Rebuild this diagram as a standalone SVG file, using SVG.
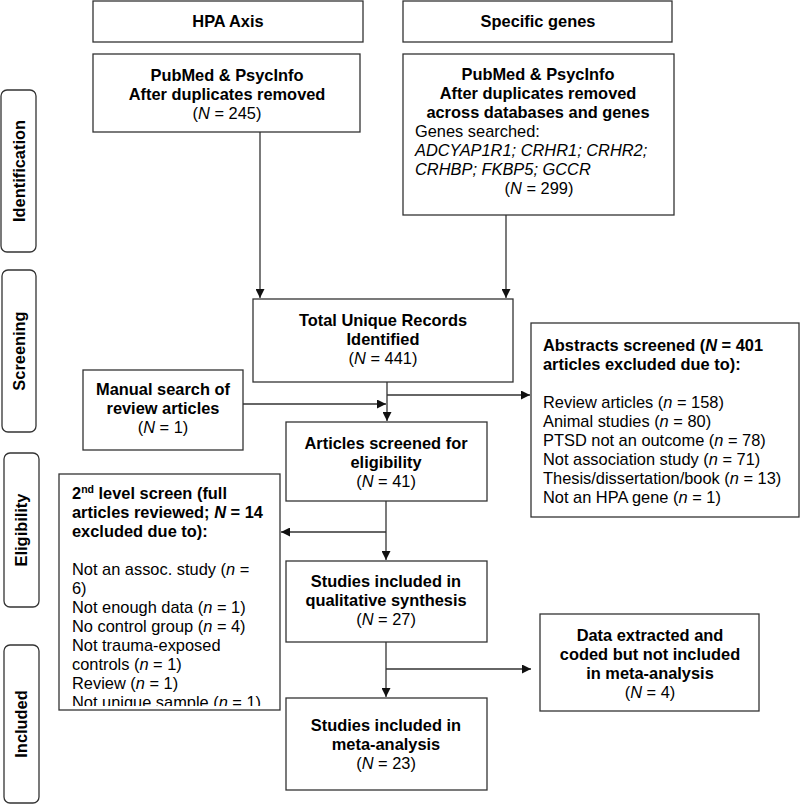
<svg xmlns="http://www.w3.org/2000/svg" width="800" height="804" viewBox="0 0 800 804">
<defs>
<style>
text{font-family:"Liberation Sans",Arial,sans-serif;font-size:16.4px;fill:#000}
.b{font-weight:bold}
.c{text-anchor:middle}
.i{font-style:italic}
.box{fill:#fff;stroke:#333;stroke-width:1.3}
.lab{fill:#fff;stroke:#333;stroke-width:1.3}
.ln{fill:none;stroke:#333;stroke-width:1.3}
</style>
<marker id="ah" viewBox="0 0 10 10" refX="10" refY="5" markerWidth="9" markerHeight="9" markerUnits="userSpaceOnUse" orient="auto">
<path d="M0,0 L10,5 L0,10 z" fill="#111"/>
</marker>
<clipPath id="clip2"><rect x="59" y="474" width="221" height="232"/></clipPath>
</defs>

<g id="label-identification">
<rect class="lab" x="1" y="90" width="35" height="162" rx="6"/>
<text class="b c" transform="translate(25,171) rotate(-90)">Identification</text>
</g>
<g id="label-screening">
<rect class="lab" x="2" y="270" width="34" height="162" rx="6"/>
<text class="b c" transform="translate(25,351) rotate(-90)">Screening</text>
</g>
<g id="label-eligibility">
<rect class="lab" x="4" y="453" width="35" height="154" rx="6"/>
<text class="b c" transform="translate(27,530) rotate(-90)">Eligibility</text>
</g>
<g id="label-included">
<rect class="lab" x="4" y="645" width="35" height="158" rx="6"/>
<text class="b c" transform="translate(27,724) rotate(-90)">Included</text>
</g>

<g id="connectors">
<line class="ln" x1="260" y1="132" x2="260" y2="298" marker-end="url(#ah)"/>
<line class="ln" x1="506" y1="215" x2="506" y2="298" marker-end="url(#ah)"/>
<line class="ln" x1="387" y1="382" x2="387" y2="421" marker-end="url(#ah)"/>
<line class="ln" x1="387" y1="395" x2="530" y2="395" marker-end="url(#ah)"/>
<line class="ln" x1="243" y1="404" x2="386" y2="404" marker-end="url(#ah)"/>
<line class="ln" x1="386" y1="501" x2="386" y2="560" marker-end="url(#ah)"/>
<line class="ln" x1="386" y1="532" x2="281" y2="532" marker-end="url(#ah)"/>
<line class="ln" x1="386" y1="642" x2="386" y2="697" marker-end="url(#ah)"/>
<line class="ln" x1="386" y1="669" x2="531" y2="669" marker-end="url(#ah)"/>
</g>

<g id="hpa-axis">
<rect class="box" x="93" y="1" width="270" height="41"/>
<text class="b c" x="228" y="27">HPA Axis</text>
</g>
<g id="specific-genes">
<rect class="box" x="403" y="1" width="269" height="41"/>
<text class="b c" x="538" y="27">Specific genes</text>
</g>

<g id="pubmed-hpa">
<rect class="box" x="93" y="54" width="267" height="78"/>
<text class="b c" x="227" y="81">PubMed &amp; PsycInfo</text>
<text class="b c" x="227" y="100">After duplicates removed</text>
<text class="c" x="227" y="119">(<tspan class="i">N</tspan> = 245)</text>
</g>

<g id="pubmed-genes">
<rect class="box" x="403" y="54" width="271" height="161"/>
<text class="b c" x="538" y="80">PubMed &amp; PsycInfo</text>
<text class="b c" x="538" y="99">After duplicates removed</text>
<text class="b c" x="538" y="118">across databases and genes</text>
<text x="415" y="137">Genes searched:</text>
<text class="i" x="415" y="156">ADCYAP1R1; CRHR1; CRHR2;</text>
<text class="i" x="415" y="175">CRHBP; FKBP5; GCCR</text>
<text class="c" x="539" y="194">(<tspan class="i">N</tspan> = 299)</text>
</g>

<g id="total-records">
<rect class="box" x="253" y="299" width="260" height="83"/>
<text class="b c" x="383" y="326">Total Unique Records</text>
<text class="b c" x="383" y="345">Identified</text>
<text class="c" x="383" y="364">(<tspan class="i">N</tspan> = 441)</text>
</g>

<g id="abstracts-screened">
<rect class="box" x="531" y="323" width="268" height="194"/>
<text class="b" x="543" y="351">Abstracts screened (<tspan class="i">N</tspan> = 401</text>
<text class="b" x="543" y="370">articles excluded due to):</text>
<text x="543" y="408">Review articles (<tspan class="i">n</tspan> = 158)</text>
<text x="543" y="427">Animal studies (<tspan class="i">n</tspan> = 80)</text>
<text x="543" y="446">PTSD not an outcome (<tspan class="i">n</tspan> = 78)</text>
<text x="543" y="465">Not association study (<tspan class="i">n</tspan> = 71)</text>
<text x="543" y="484">Thesis/dissertation/book (<tspan class="i">n</tspan> = 13)</text>
<text x="543" y="503">Not an HPA gene (<tspan class="i">n</tspan> = 1)</text>
</g>

<g id="manual-search">
<rect class="box" x="83" y="370" width="160" height="80"/>
<text class="b c" x="163" y="395">Manual search of</text>
<text class="b c" x="163" y="414">review articles</text>
<text class="c" x="163" y="433">(<tspan class="i">N</tspan> = 1)</text>
</g>

<g id="articles-screened">
<rect class="box" x="286" y="422" width="201" height="79"/>
<text class="b c" x="386" y="449">Articles screened for</text>
<text class="b c" x="386" y="468">eligibility</text>
<text class="c" x="386" y="487">(<tspan class="i">N</tspan> = 41)</text>
</g>

<g id="second-level-screen">
<rect class="box" x="59" y="474" width="221" height="236"/>
<g clip-path="url(#clip2)">
<text class="b" x="72" y="499">2<tspan font-size="10.5px" dy="-6">nd</tspan><tspan dy="6"> level screen (full</tspan></text>
<text class="b" x="72" y="518">articles reviewed; <tspan class="i">N</tspan> = 14</text>
<text class="b" x="72" y="537">excluded due to):</text>
<text x="72" y="575">Not an assoc. study (<tspan class="i">n</tspan> =</text>
<text x="72" y="594">6)</text>
<text x="72" y="613">Not enough data (<tspan class="i">n</tspan> = 1)</text>
<text x="72" y="632">No control group (<tspan class="i">n</tspan> = 4)</text>
<text x="72" y="651">Not trauma-exposed</text>
<text x="72" y="670">controls (<tspan class="i">n</tspan> = 1)</text>
<text x="72" y="689">Review (<tspan class="i">n</tspan> = 1)</text>
<text x="72" y="708">Not unique sample (<tspan class="i">n</tspan> = 1)</text>
</g>
</g>

<g id="qualitative-synthesis">
<rect class="box" x="286" y="561" width="201" height="81"/>
<text class="b c" x="386" y="587">Studies included in</text>
<text class="b c" x="386" y="606">qualitative synthesis</text>
<text class="c" x="386" y="625">(<tspan class="i">N</tspan> = 27)</text>
</g>

<g id="data-extracted">
<rect class="box" x="540" y="614" width="219" height="97"/>
<text class="b c" x="650" y="641">Data extracted and</text>
<text class="b c" x="650" y="660">coded but not included</text>
<text class="b c" x="650" y="679">in meta-analysis</text>
<text class="c" x="650" y="698">(<tspan class="i">N</tspan> = 4)</text>
</g>

<g id="meta-analysis">
<rect class="box" x="286" y="698" width="201" height="92"/>
<text class="b c" x="386" y="731">Studies included in</text>
<text class="b c" x="386" y="750">meta-analysis</text>
<text class="c" x="386" y="769">(<tspan class="i">N</tspan> = 23)</text>
</g>
</svg>
